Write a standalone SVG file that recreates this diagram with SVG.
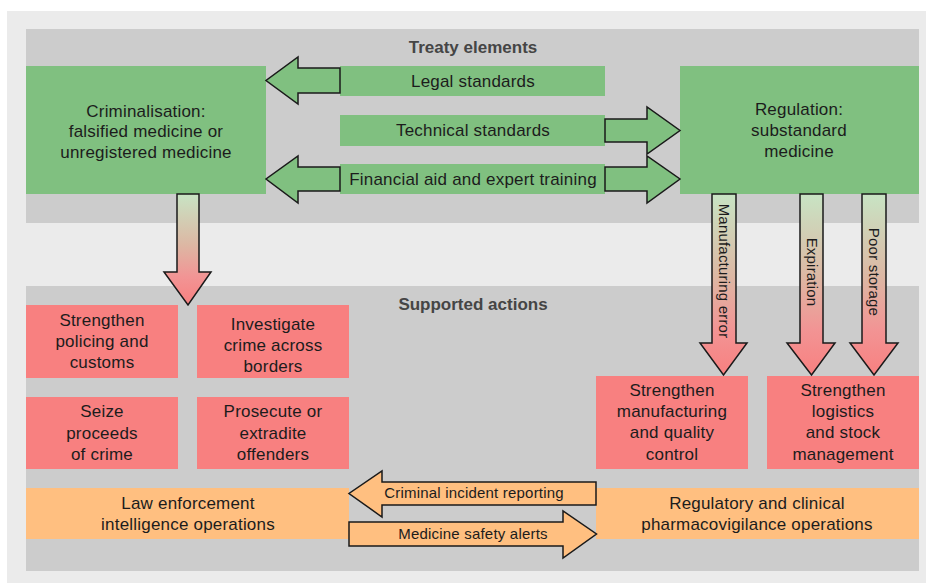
<svg xmlns="http://www.w3.org/2000/svg" width="926" height="583" viewBox="0 0 926 583">
<style>
text{font-family:"Liberation Sans",Arial,sans-serif;fill:#1c1c1c;text-anchor:middle}
.t{font-size:17px;letter-spacing:0.2px}
.s{font-size:15px;letter-spacing:0.2px}
.h{font-size:17px;font-weight:bold;fill:#454545}
.g{fill:#80c080}
.r{fill:#f88080}
.o{fill:#ffbf80}
.ag{fill:#80c080;stroke:#1a1a1a;stroke-width:1.5;stroke-linejoin:miter}
.ao{fill:#ffbf80;stroke:#1a1a1a;stroke-width:1.5}
.ad{fill:url(#grad);stroke:#1a1a1a;stroke-width:1.5}
</style>
<defs>
<linearGradient id="grad" x1="0" y1="0" x2="0" y2="1">
<stop offset="0" stop-color="#c8e4c4"/>
<stop offset="0.45" stop-color="#dcb8a4"/>
<stop offset="0.75" stop-color="#f29494"/>
<stop offset="1" stop-color="#f88080"/>
</linearGradient>
</defs>
<rect x="7" y="11" width="919" height="572" fill="#ebebeb"/>
<rect x="26" y="29" width="893" height="194" fill="#cccccc"/>
<rect x="26" y="286" width="893" height="285" fill="#cccccc"/>
<text class="h" x="473" y="53">Treaty elements</text>
<text class="h" x="473" y="310">Supported actions</text>

<g id="criminalisation">
<rect class="g" x="26" y="66" width="240" height="128"/>
<text class="t" x="146" y="117">Criminalisation:</text>
<text class="t" x="146" y="137">falsified medicine or</text>
<text class="t" x="146" y="158">unregistered medicine</text>
</g>
<g id="regulation">
<rect class="g" x="680" y="66" width="239" height="128"/>
<text class="t" x="799" y="115">Regulation:</text>
<text class="t" x="799" y="136">substandard</text>
<text class="t" x="799" y="157">medicine</text>
</g>
<g id="legal">
<rect class="g" x="340" y="66" width="265" height="30"/>
<text class="t" x="473" y="87">Legal standards</text>
</g>
<g id="technical">
<rect class="g" x="340" y="115" width="265" height="31"/>
<text class="t" x="473" y="136">Technical standards</text>
</g>
<g id="financial">
<rect class="g" x="340" y="164" width="265" height="30"/>
<text class="t" x="473" y="185">Financial aid and expert training</text>
</g>

<g id="policing">
<rect class="r" x="26" y="305" width="152" height="73"/>
<text class="t" x="102" y="326">Strengthen</text>
<text class="t" x="102" y="347">policing and</text>
<text class="t" x="102" y="368">customs</text>
</g>
<g id="investigate">
<rect class="r" x="197" y="305" width="152" height="73"/>
<text class="t" x="273" y="330">Investigate</text>
<text class="t" x="273" y="351">crime across</text>
<text class="t" x="273" y="372">borders</text>
</g>
<g id="seize">
<rect class="r" x="26" y="397" width="152" height="72"/>
<text class="t" x="102" y="417">Seize</text>
<text class="t" x="102" y="439">proceeds</text>
<text class="t" x="102" y="460">of crime</text>
</g>
<g id="prosecute">
<rect class="r" x="197" y="397" width="152" height="72"/>
<text class="t" x="273" y="417">Prosecute or</text>
<text class="t" x="273" y="439">extradite</text>
<text class="t" x="273" y="460">offenders</text>
</g>
<g id="manufacturing">
<rect class="r" x="596" y="376" width="152" height="93"/>
<text class="t" x="672" y="396">Strengthen</text>
<text class="t" x="672" y="417">manufacturing</text>
<text class="t" x="672" y="438">and quality</text>
<text class="t" x="672" y="460">control</text>
</g>
<g id="logistics">
<rect class="r" x="767" y="376" width="152" height="93"/>
<text class="t" x="843" y="396">Strengthen</text>
<text class="t" x="843" y="417">logistics</text>
<text class="t" x="843" y="438">and stock</text>
<text class="t" x="843" y="460">management</text>
</g>
<g id="law-enforcement">
<rect class="o" x="26" y="488" width="323" height="51"/>
<text class="t" x="188" y="509">Law enforcement</text>
<text class="t" x="188" y="530">intelligence operations</text>
</g>
<g id="regulatory">
<rect class="o" x="596" y="488" width="323" height="51"/>
<text class="t" x="757" y="509">Regulatory and clinical</text>
<text class="t" x="757" y="530">pharmacovigilance operations</text>
</g>

<g id="connectors">
<polygon class="ag" points="340,68 298,68 298,57 266,80.5 298,104 298,93 340,93"/>
<polygon class="ag" points="605,119 647,119 647,107 680,130.5 647,154 647,142 605,142"/>
<polygon class="ag" points="340,167 298,167 298,156 266,179 298,203 298,191 340,191"/>
<polygon class="ag" points="605,167 647,167 647,156 680,179 647,203 647,191 605,191"/>
<polygon class="ad" points="177,194 199,194 199,272 211,272 188,305 164,272 177,272"/>
<polygon class="ad" points="712,194 736,194 736,343 747,343 723.5,375 700,343 712,343"/>
<polygon class="ad" points="800,194 823,194 823,343 835,343 811.5,375 787,343 800,343"/>
<polygon class="ad" points="862,194 886,194 886,343 898,343 874,375 850,343 862,343"/>
<text class="s" transform="translate(718.5,271) rotate(90)">Manufacturing error</text>
<text class="s" transform="translate(806.5,272) rotate(90)">Expiration</text>
<text class="s" transform="translate(869,272) rotate(90)">Poor storage</text>
<polygon class="ao" points="596,482 382,482 382,471 349,493.5 382,517 382,505 596,505"/>
<polygon class="ao" points="349,522 563,522 563,511 596.5,534 563,558 563,546 349,546"/>
<text class="s" x="474" y="498">Criminal incident reporting</text>
<text class="s" x="473" y="539">Medicine safety alerts</text>
</g>
</svg>
